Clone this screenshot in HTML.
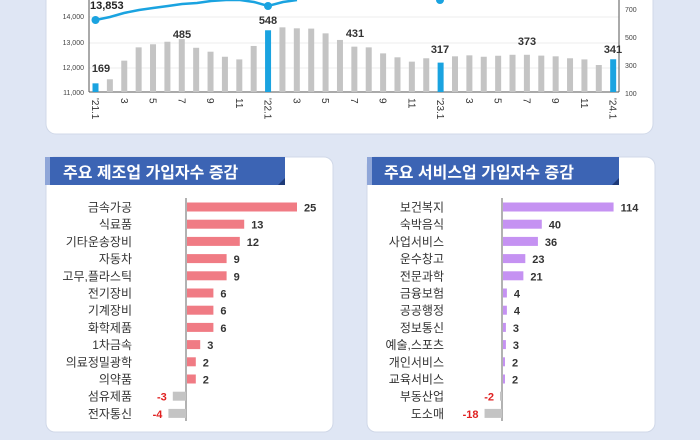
<!DOCTYPE html>
<html><head><meta charset="utf-8"><style>
html,body{margin:0;padding:0;background:#dfe6f4;}
body{width:700px;height:440px;overflow:hidden;position:relative;font-family:"Liberation Sans","Noto Sans CJK KR",sans-serif;}
svg{position:absolute;left:0;top:0;}
</style></head><body>
<svg width="700" height="440" viewBox="0 0 700 440" xmlns="http://www.w3.org/2000/svg" font-family="Liberation Sans, Noto Sans CJK KR, sans-serif">
<defs>
<clipPath id="c"><rect x="0" y="0" width="700" height="440"/></clipPath>
</defs>
<!-- top card -->
<rect x="46" y="-20" width="607" height="154" rx="10" fill="#fff" stroke="#d0d8e8"/>
<!-- gridlines -->
<g stroke="#eeeeee" stroke-width="1">
<line x1="89" y1="17" x2="619" y2="17"/><line x1="89" y1="43" x2="619" y2="43"/><line x1="89" y1="68" x2="619" y2="68"/>
</g>
<line x1="89" y1="0" x2="89" y2="92" stroke="#555"/>
<line x1="619" y1="0" x2="619" y2="92" stroke="#555"/>
<line x1="89" y1="92" x2="619" y2="92" stroke="#555"/>
<g font-size="7" fill="#444" text-anchor="end">
<text x="84" y="19">14,000</text><text x="84" y="45">13,000</text><text x="84" y="70">12,000</text><text x="84" y="95">11,000</text>
</g>
<g font-size="7" fill="#444">
<text x="625" y="12">700</text><text x="625" y="40">500</text><text x="625" y="68">300</text><text x="625" y="96">100</text>
</g>
<g id="bars"></g>
<g id="xl" font-size="10" fill="#333"></g>
<polyline points="95.5,20 110,17 124,13 139,10 153,8 168,6 182,4 197,3 211,1 226,0 240,0 254,2 268,6 283,2 297,0" fill="none" stroke="#1aa3e0" stroke-width="2.5"/>
<circle cx="95.5" cy="20" r="4" fill="#1aa3e0"/>
<circle cx="268" cy="6" r="4" fill="#1aa3e0"/>
<circle cx="440" cy="0" r="4" fill="#1aa3e0"/>
<text x="90" y="9" font-size="11" font-weight="bold" fill="#222">13,853</text>
<g font-size="11" font-weight="bold" fill="#333" text-anchor="middle">
<text x="101" y="72">169</text><text x="182" y="38">485</text><text x="268" y="24">548</text><text x="355" y="37">431</text><text x="440" y="53">317</text><text x="527" y="45">373</text><text x="613" y="53">341</text>
</g>

<!-- left card -->
<rect x="46" y="157" width="287" height="275" rx="9" fill="#fff" stroke="#d0d8e8"/>
<rect x="45" y="157" width="240" height="28" fill="#3c64b4"/>
<rect x="45" y="157" width="5" height="28" fill="#8fa6d8"/>
<polygon points="278,185 285,178 285,185" fill="#1e3a78"/>
<text x="63" y="178" font-size="16" font-weight="bold" fill="#fff">주요 제조업 가입자수 증감</text>
<line x1="186" y1="198" x2="186" y2="421" stroke="#666"/>
<g id="lb"></g>

<!-- right card -->
<rect x="367" y="157" width="288" height="275" rx="9" fill="#fff" stroke="#d0d8e8"/>
<rect x="367" y="157" width="252" height="28" fill="#3c64b4"/>
<rect x="367" y="157" width="5" height="28" fill="#8fa6d8"/>
<polygon points="612,185 619,178 619,185" fill="#1e3a78"/>
<text x="384" y="178" font-size="16" font-weight="bold" fill="#fff">주요 서비스업 가입자수 증감</text>
<line x1="502" y1="198" x2="502" y2="421" stroke="#666"/>
<g id="rb"></g>
</svg>
<script>
var NS="http://www.w3.org/2000/svg";
function el(p,t,a,txt){var e=document.createElementNS(NS,t);for(var k in a)e.setAttribute(k,a[k]);if(txt!==undefined)e.textContent=txt;p.appendChild(e);return e;}
var v=[169,198,331,426,448,466,485,423,395,359,340,436,548,569,562,560,526,479,431,426,383,355,324,348,317,362,369,359,366,373,373,367,362,348,340,300,341];
var g=document.getElementById('bars'),xl=document.getElementById('xl');
for(var i=0;i<37;i++){var x=95.5+i*14.38;var y=93-(v[i]-100)*0.14;var blue=(i%12==0);
el(g,'rect',{x:x-3,y:y,width:6,height:92-y,fill:blue?'#1aa3e0':'#c4c4c4'});
if(i%2==0){var m=i%12;var lab=m==0?("'"+(21+i/12)+".1"):String(m+1);
el(xl,'text',{x:0,y:0,transform:'translate('+(x-3.5)+',98) rotate(90)'},lab);}}
function panel(id,ax,lx,sc,col,data){var p=document.getElementById(id);
for(var i=0;i<data.length;i++){var d=data[i],y=207+i*17.2;
el(p,'text',{x:lx,y:y+4.5,'font-size':12,fill:'#333','text-anchor':'end'},d[0]);
var w=Math.abs(d[1])*sc;if(w<2)w=2;
if(d[1]>=0){el(p,'rect',{x:ax+1,y:y-4.5,width:w,height:9,fill:col});
el(p,'text',{x:ax+1+w+7,y:y+4.5,'font-size':11,'font-weight':'bold',fill:'#333'},d[1]);}
else{el(p,'rect',{x:ax-w,y:y-4.5,width:w,height:9,fill:'#c4c4c4'});
el(p,'text',{x:ax-w-6,y:y+4.5,'font-size':11,'font-weight':'bold',fill:'#e02020','text-anchor':'end'},d[1]);}}}
panel('lb',186,132,4.4,'#f07b84',[['금속가공',25],['식료품',13],['기타운송장비',12],['자동차',9],['고무,플라스틱',9],['전기장비',6],['기계장비',6],['화학제품',6],['1차금속',3],['의료정밀광학',2],['의약품',2],['섬유제품',-3],['전자통신',-4]]);
panel('rb',502,444,0.97,'#c592f2',[['보건복지',114],['숙박음식',40],['사업서비스',36],['운수창고',23],['전문과학',21],['금융보험',4],['공공행정',4],['정보통신',3],['예술,스포츠',3],['개인서비스',2],['교육서비스',2],['부동산업',-2],['도소매',-18]]);
</script>
</body></html>
